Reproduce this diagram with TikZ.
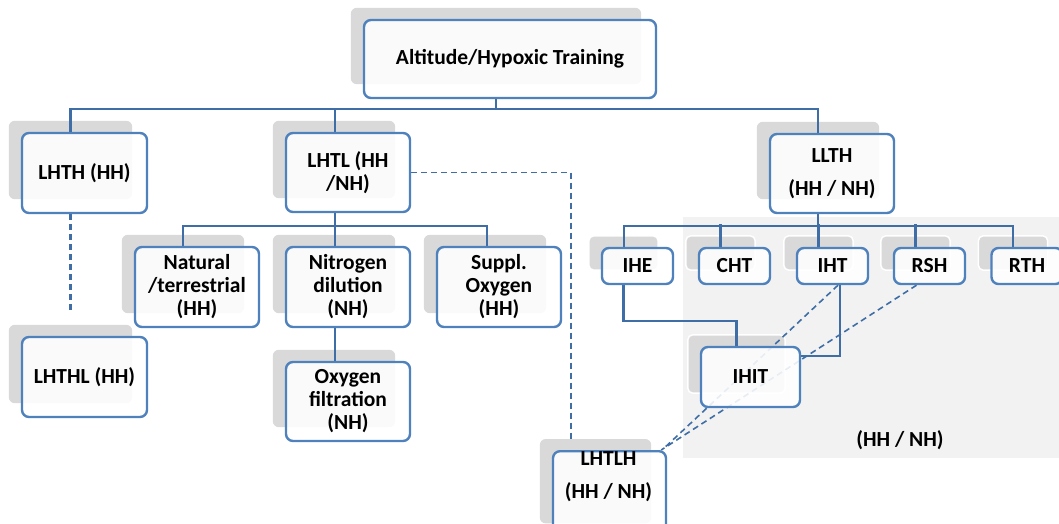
\documentclass[tikz,border=0pt]{standalone}
\usepackage{fontspec}
\setmainfont{Carlito}
\usepackage{tikz}
\usetikzlibrary{calc}
\definecolor{boxblue}{HTML}{4F81BD}
\definecolor{linkblue}{HTML}{3F6EA6}
\definecolor{shadowgray}{HTML}{D9D9D9}
\definecolor{zonegray}{HTML}{F2F2F2}
\pgfdeclarelayer{back}
\pgfdeclarelayer{links}
\pgfsetlayers{back,links,main}
\tikzstyle{box}=[draw=boxblue, line width=2.4pt, rounded corners=7pt, fill=white, fill opacity=0.88, text opacity=1, align=center, inner sep=0pt, font=\bfseries\fontsize{21.5}{23}\selectfont]
\tikzstyle{lbl}=[align=center, inner sep=0pt, font=\bfseries\fontsize{21.5}{23}\selectfont]
\tikzstyle{link}=[linkblue, line width=2.2pt]
\tikzstyle{dlink}=[linkblue, line width=1.6pt, dash pattern=on 6pt off 4pt]

\begin{document}
\begin{tikzpicture}[x=1pt,y=-1pt]
\useasboundingbox (0,0) rectangle (1059,524);

\node[box, minimum width=292, minimum height=78] (top) at (510,59) {Altitude/Hypoxic Training};

\node[box, minimum width=125, minimum height=80] (lhth) at (84.5,173) {LHTH (HH)};
\node[box, minimum width=124, minimum height=79] (lhtl) at (348,172.5) {LHTL (HH\\/NH)};
\node[box, minimum width=124, minimum height=79] (llth) at (832,173.5) {LLTH\\[10pt](HH / NH)};
\node[box, minimum width=125, minimum height=80] (lhthl) at (84.5,377) {LHTHL (HH)};

\node[box, minimum width=124, minimum height=80] (nat) at (197,287) {Natural\\/terrestrial\\(HH)};
\node[box, minimum width=124, minimum height=80] (nitro) at (348,287) {Nitrogen\\dilution\\(NH)};
\node[box, minimum width=124, minimum height=80] (suppl) at (499,287) {Suppl.\\Oxygen\\(HH)};
\node[box, minimum width=124, minimum height=79] (oxy) at (348,401.5) {Oxygen\\filtration\\(NH)};

\node[box, minimum width=71, minimum height=36] (ihe) at (637.5,266) {IHE};
\node[box, minimum width=71, minimum height=36] (cht) at (734.5,266) {CHT};
\node[box, minimum width=71, minimum height=36] (iht) at (832.5,266) {IHT};
\node[box, minimum width=71, minimum height=36] (rsh) at (929.5,266) {RSH};
\node[box, minimum width=71, minimum height=36] (rth) at (1027,266) {RTH};
\node[box, minimum width=99, minimum height=60] (ihit) at (750.5,377) {IHIT};

\node[box, minimum width=113, minimum height=86, anchor=north] (lhtlh) at (609.5,450) {};
\node[lbl] (lhtlhtxt) at (608.5,476.5) {LHTLH\\[10pt](HH / NH)};
\node[lbl] (zonetxt) at (900,440) {(HH / NH)};

\begin{pgfonlayer}{back}
\fill[zonegray] (683,217) rectangle (1059,458);
\foreach \n in {top,lhth,lhtl,llth,lhthl,nat,nitro,suppl,oxy,lhtlh}
  \fill[shadowgray, rounded corners=6pt] ($(\n.north west)+(-12,-11)$) rectangle ($(\n.south east)+(-16,-15)$);
\foreach \n in {ihe,cht,iht,rsh,rth,ihit}
  \filldraw[fill=shadowgray, draw=white, line width=1.5pt, rounded corners=5pt] ($(\n.north west)+(-12,-11)$) rectangle ($(\n.south east)+(-16,-15)$);
\end{pgfonlayer}

\begin{pgfonlayer}{links}
\coordinate (bus) at ($(top.south)+(-14,10)$);
\draw[link] ($(top.south)+(-14,0)$) -- (bus);
\draw[link] ($(lhth.north)+(-14,0)$) |- (bus) -| ($(llth.north)+(-14,0)$);
\draw[link] ($(lhtl.north)+(-13,0)$) |- (bus);

\coordinate (bus2) at ($(lhtl.south)+(-13,13)$);
\draw[link] ($(lhtl.south)+(-13,0)$) -- (bus2);
\draw[link] ($(nat.north)+(-14,0)$) |- (bus2) -| ($(suppl.north)+(-12,0)$);
\draw[link] ($(nitro.north)+(-13,0)$) -- (bus2);
\draw[link] ($(nitro.south)+(-13,0)$) -- ($(oxy.north)+(-13,0)$);

\coordinate (bus3) at ($(llth.south)+(-14,12)$);
\draw[link] ($(llth.south)+(-14,0)$) -- (bus3);
\draw[link] ($(ihe.north)+(-13.5,0)$) |- (bus3) -| ($(rth.north)+(-14,0)$);
\foreach \n in {cht,iht,rsh}
  \draw[link] ($(\n.north)+(-14,0)$) -- ($(\n.north)+(-14,-23)$);

\draw[link] ($(ihe.south)+(-14,0)$) |- ($(ihit.north)+(-14,-25)$) -- ($(ihit.north)+(-14,0)$);
\draw[link] ($(iht.south)+(7.5,0)$) |- ($(ihit.east)+(0,-21)$);

\draw[dlink, line width=2.4pt] ($(lhth.south)+(-14,0)$) -- ($(lhthl.north)+(-14,-22)$);
\draw[dlink] (lhtl.east) -| ($(lhtlh.north)+(-38.5,-10)$);
\draw[dlink] ($(iht.south)+(5.5,0)$) -- ($(lhtlh.north east)+(-3,-2)$);
\draw[dlink] ($(rsh.south)+(-13,0)$) -- ($(lhtlh.north east)+(-6,0)$);
\end{pgfonlayer}

\end{tikzpicture}
\end{document}
